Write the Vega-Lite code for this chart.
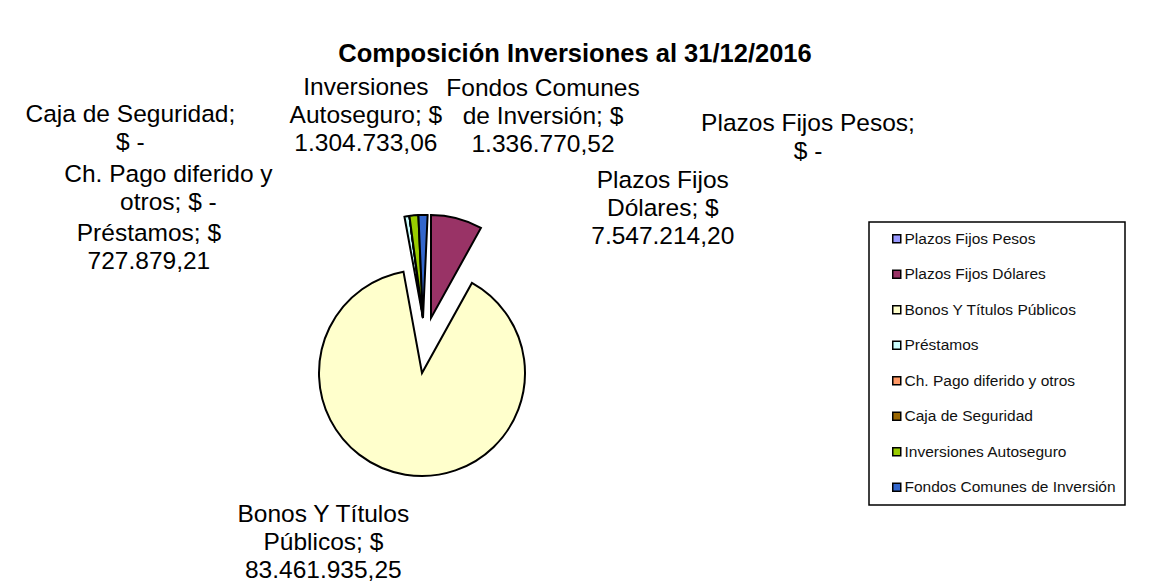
{
  "$schema": "https://vega.github.io/schema/vega-lite/v6.json",
  "width": 846,
  "height": 496,
  "autosize": {"type": "none"},
  "padding": {"left": 0, "top": 70, "right": 315, "bottom": 17},
  "background": "white",
  "title": {
    "text": "Composición Inversiones al 31/12/2016",
    "font": "Liberation Sans",
    "fontSize": 25.5,
    "fontWeight": "bold",
    "color": "black",
    "anchor": "middle",
    "frame": "group",
    "dx": 152,
    "offset": 3
  },
  "data": {
    "values": [
      {"cat": "Plazos Fijos Pesos", "value": 0, "label": ["Plazos Fijos Pesos;", "$ -"]},
      {"cat": "Plazos Fijos Dólares", "value": 7547214.20, "label": ["Plazos Fijos", "Dólares;  $", "7.547.214,20"]},
      {"cat": "Bonos Y Títulos Públicos", "value": 83461935.25, "label": ["Bonos Y Títulos", "Públicos;  $", "83.461.935,25"]},
      {"cat": "Préstamos", "value": 727879.21, "label": ["Préstamos;  $", "727.879,21"]},
      {"cat": "Ch. Pago diferido y otros", "value": 0, "label": ["Ch. Pago diferido y", "otros;  $ -"]},
      {"cat": "Caja de Seguridad", "value": 0, "label": ["Caja de Seguridad;", "$ -"]},
      {"cat": "Inversiones Autoseguro", "value": 1304733.06, "label": ["Inversiones", "Autoseguro;  $", "1.304.733,06"]},
      {"cat": "Fondos Comunes de Inversión", "value": 1336770.52, "label": ["Fondos Comunes", "de Inversión;  $", "1.336.770,52"]}
    ]
  },
  "transform": [
    {"stack": "value", "groupby": [], "as": ["v0", "v1"]},
    {"calculate": "(datum.v0 + datum.v1) / 2", "as": "mid"}
  ],
  "layer": [
    {
      "transform": [{"filter": "datum.cat !== 'Plazos Fijos Dólares' && datum.cat !== 'Bonos Y Títulos Públicos'"}],
      "mark": {"type": "arc", "radius": 103, "stroke": "black", "strokeWidth": 2},
      "encoding": {
        "theta": {"field": "v0", "type": "quantitative", "stack": null, "scale": {"zero": true, "nice": false}},
        "theta2": {"field": "v1"},
        "color": {
          "field": "cat", "type": "nominal",
          "scale": {
            "domain": ["Plazos Fijos Pesos", "Plazos Fijos Dólares", "Bonos Y Títulos Públicos", "Préstamos", "Ch. Pago diferido y otros", "Caja de Seguridad", "Inversiones Autoseguro", "Fondos Comunes de Inversión"],
            "range": ["#9999FF", "#993366", "#FFFFCC", "#CCFFFF", "#FF9966", "#996600", "#99CC00", "#3366CC"]
          },
          "legend": {"title": null}
        }
      }
    },
    {
      "transform": [{"filter": "datum.cat === 'Plazos Fijos Dólares'"}],
      "mark": {"type": "arc", "radius": 103, "stroke": "black", "strokeWidth": 2, "xOffset": 8},
      "encoding": {
        "theta": {"field": "v0", "type": "quantitative", "stack": null, "scale": {"zero": true, "nice": false}},
        "theta2": {"field": "v1"},
        "color": {"field": "cat", "type": "nominal", "legend": {"title": null}}
      }
    },
    {
      "transform": [{"filter": "datum.cat === 'Bonos Y Títulos Públicos'"}],
      "mark": {"type": "arc", "radius": 103, "stroke": "black", "strokeWidth": 2, "xOffset": -1, "yOffset": 55},
      "encoding": {
        "theta": {"field": "v0", "type": "quantitative", "stack": null, "scale": {"zero": true, "nice": false}},
        "theta2": {"field": "v1"},
        "color": {"field": "cat", "type": "nominal", "legend": {"title": null}}
      }
    },
    {
      "transform": [{"filter": "datum.cat === 'Plazos Fijos Pesos'"}],
      "mark": {"type": "text", "radius": 103, "dx": 385, "dy": -91},
      "encoding": {"theta": {"field": "mid", "type": "quantitative", "stack": null}, "text": {"field": "label"}}
    },
    {
      "transform": [{"filter": "datum.cat === 'Plazos Fijos Dólares'"}],
      "mark": {"type": "text", "radius": 103, "dx": 214, "dy": -37},
      "encoding": {"theta": {"field": "mid", "type": "quantitative", "stack": null}, "text": {"field": "label"}}
    },
    {
      "transform": [{"filter": "datum.cat === 'Bonos Y Títulos Públicos'"}],
      "mark": {"type": "text", "radius": 103, "dx": -83, "dy": 95},
      "encoding": {"theta": {"field": "mid", "type": "quantitative", "stack": null}, "text": {"field": "label"}}
    },
    {
      "transform": [{"filter": "datum.cat === 'Préstamos'"}],
      "mark": {"type": "text", "radius": 103, "dx": -258, "dy": 18},
      "encoding": {"theta": {"field": "mid", "type": "quantitative", "stack": null}, "text": {"field": "label"}}
    },
    {
      "transform": [{"filter": "datum.cat === 'Ch. Pago diferido y otros'"}],
      "mark": {"type": "text", "radius": 103, "dx": -241, "dy": -41},
      "encoding": {"theta": {"field": "mid", "type": "quantitative", "stack": null}, "text": {"field": "label"}}
    },
    {
      "transform": [{"filter": "datum.cat === 'Caja de Seguridad'"}],
      "mark": {"type": "text", "radius": 103, "dx": -279, "dy": -101},
      "encoding": {"theta": {"field": "mid", "type": "quantitative", "stack": null}, "text": {"field": "label"}}
    },
    {
      "transform": [{"filter": "datum.cat === 'Inversiones Autoseguro'"}],
      "mark": {"type": "text", "radius": 103, "dx": -48, "dy": -127},
      "encoding": {"theta": {"field": "mid", "type": "quantitative", "stack": null}, "text": {"field": "label"}}
    },
    {
      "transform": [{"filter": "datum.cat === 'Fondos Comunes de Inversión'"}],
      "mark": {"type": "text", "radius": 103, "dx": 120, "dy": -126},
      "encoding": {"theta": {"field": "mid", "type": "quantitative", "stack": null}, "text": {"field": "label"}}
    }
  ],
  "config": {
    "view": {"stroke": null},
    "text": {"font": "Liberation Sans", "fontSize": 24.5, "lineHeight": 28, "align": "center", "baseline": "middle", "color": "black"},
    "legend": {
      "orient": "none",
      "legendX": 869,
      "legendY": 152,
      "strokeColor": "black",
      "strokeWidth": 1.5,
      "padding": 9,
      "symbolType": "square",
      "symbolSize": 64,
      "symbolStrokeColor": "black",
      "symbolStrokeWidth": 1.5,
      "symbolOffset": 11,
      "labelFont": "Liberation Sans",
      "labelFontSize": 15.5,
      "labelColor": "#111111",
      "labelOffset": 0,
      "labelLimit": 400,
      "rowPadding": 18.5
    }
  }
}
